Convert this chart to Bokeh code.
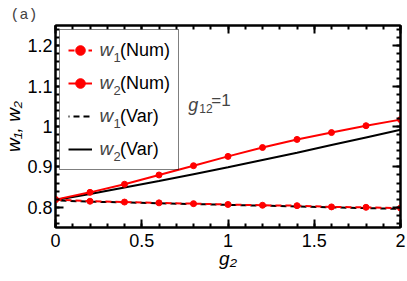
from bokeh.plotting import figure
from bokeh.models import (FixedTicker, LinearAxis, Legend, LegendItem, Label, Range1d,
                          CustomLabelingPolicy, BoxAnnotation)
from bokeh.embed import file_html
from bokeh.resources import INLINE

# ---- data ----
g2 = [0.0, 0.2, 0.4, 0.6, 0.8, 1.0, 1.2, 1.4, 1.6, 1.8, 2.0]
w1_num = [0.819, 0.815, 0.813, 0.811, 0.809, 0.807, 0.805, 0.804, 0.801, 0.800, 0.798]
w2_num = [0.819, 0.837, 0.857, 0.880, 0.903, 0.926, 0.948, 0.968, 0.985, 1.002, 1.017]
w1_var = [0.817, 0.814, 0.812, 0.810, 0.808, 0.806, 0.804, 0.802, 0.800, 0.798, 0.796]
w2_var = [0.818, 0.833, 0.849, 0.865, 0.882, 0.899, 0.917, 0.935, 0.954, 0.973, 0.992]

x_ticks = [0, 0.5, 1, 1.5, 2]
x_tick_labels = ["0", "0.5", "1", "1.5", "2"]
y_ticks = [0.8, 0.9, 1.0, 1.1, 1.2]
y_tick_labels = ["0.8", "0.9", "1", "1.1", "1.2"]
x_minor = [round(0.1 * i, 2) for i in range(21)]
y_minor = [round(0.76 + 0.02 * i, 2) for i in range(25)]

legend_var = ["w", "w", "w", "w"]
legend_sub = ["1", "2", "1", "2"]
legend_kind = ["(Num)", "(Num)", "(Var)", "(Var)"]

FONT = "Liberation Sans"

# ---- layout (pixels) ----
W, H = 407, 281
BL, BR, BT, BB = 53, 7, 25, 54
FRAME_W, FRAME_H = W - BL - BR, H - BT - BB
X0, X1, Y0, Y1 = 0, 2, 0.75, 1.25
SX, SY = (X1 - X0) / FRAME_W, (Y1 - Y0) / FRAME_H   # data units per pixel

p = figure(width=W, height=H, x_range=Range1d(X0, X1), y_range=Range1d(Y0, Y1),
           output_backend="svg", toolbar_location=None,
           min_border_left=BL, min_border_right=BR, min_border_top=BT, min_border_bottom=BB,
           background_fill_color="white", border_fill_color="white")
p.xgrid.visible = False
p.ygrid.visible = False
p.outline_line_color = "black"
p.outline_line_width = 2

p.title.text = "(a)"
p.title.text_font = "Liberation Mono"
p.title.text_font_size = "15px"
p.title.text_font_style = "normal"
p.title.align = "left"
p.title.offset = -45
p.title.standoff = 4

hide_labels = CustomLabelingPolicy(code="for (const i of [...indices]) { indices.unset(i) }\nreturn indices")


def style_axis(ax, ticks, minor, labels, show_labels):
    ax.ticker = FixedTicker(ticks=ticks, minor_ticks=minor)
    ax.axis_line_width = 2
    ax.axis_line_color = "black"
    ax.major_tick_in = 8
    ax.major_tick_out = 0
    ax.minor_tick_in = 4
    ax.minor_tick_out = 0
    ax.major_tick_line_width = 2
    ax.minor_tick_line_width = 2
    ax.major_tick_line_color = "black"
    ax.minor_tick_line_color = "black"
    if show_labels:
        ax.major_label_overrides = {t: l for t, l in zip(ticks, labels)}
        ax.major_label_text_font = FONT
        ax.major_label_text_font_size = "18px"
        ax.major_label_text_color = "black"
    else:
        ax.major_label_text_font_size = "0px"
        ax.major_label_standoff = 0
        ax.major_label_policy = hide_labels


xa = p.xaxis[0]
ya = p.yaxis[0]
style_axis(xa, x_ticks, x_minor, x_tick_labels, True)
style_axis(ya, y_ticks, y_minor, y_tick_labels, True)
xa.major_label_standoff = 6
ya.major_label_standoff = 3
xa.axis_label = "g\u2082"
ya.axis_label = "w\u2081, w\u2082"
for ax in (xa, ya):
    ax.axis_label_text_font = FONT
    ax.axis_label_text_font_size = "19px"
    ax.axis_label_text_font_style = "italic"
    ax.axis_label_text_color = "black"
xa.axis_label_standoff = -2
ya.axis_label_standoff = 0

top = LinearAxis()
style_axis(top, x_ticks, x_minor, x_tick_labels, False)
p.add_layout(top, "above")
right = LinearAxis()
style_axis(right, y_ticks, y_minor, y_tick_labels, False)
p.add_layout(right, "right")

# ---- series ----
r_w1v = p.line(g2, w1_var, line_color="black", line_width=2, line_dash="6 4", line_dash_offset=5)
r_w2v = p.line(g2, w2_var, line_color="black", line_width=2)
r_w1n = p.line(g2, w1_num, line_color="red", line_width=2, line_dash="6 4")
r_w1n_d = p.scatter(g2, w1_num, size=6, color="red")
r_w2n = p.line(g2, w2_num, line_color="red", line_width=2)
r_w2n_d = p.scatter(g2, w2_num, size=6, color="red")

# ---- legend ----
LEG_MARGIN, LEG_PAD, LEG_ROW, LEG_SPACING = 4, 8, 24, 9
LEG_GLYPH_W, LEG_STANDOFF, LEG_LABEL_W = 24, 28, 50
LEG_W = 2 * LEG_PAD + LEG_GLYPH_W + LEG_STANDOFF + LEG_LABEL_W
LEG_H = 2 * LEG_PAD + 4 * LEG_ROW + 3 * LEG_SPACING

# white backing for the legend (hides the inward ticks behind it)
p.add_layout(BoxAnnotation(left=X0 + LEG_MARGIN * SX, right=X0 + (LEG_MARGIN + LEG_W) * SX,
                           top=Y1 - LEG_MARGIN * SY, bottom=Y1 - (LEG_MARGIN + LEG_H) * SY,
                           fill_color="white", fill_alpha=1, line_color=None,
                           level="annotation"))

# italic w + subscript digit in front of each legend label
for i in range(4):
    dy = -(LEG_MARGIN + LEG_PAD + LEG_ROW / 2 + i * (LEG_ROW + LEG_SPACING))
    p.add_layout(Label(x=X0, y=Y1, x_offset=44, y_offset=dy, text=legend_var[i],
                       text_font=FONT, text_font_size="19px", text_font_style="italic",
                       text_baseline="middle", text_align="left"))
    p.add_layout(Label(x=X0, y=Y1, x_offset=58, y_offset=dy - 8, text=legend_sub[i],
                       text_font=FONT, text_font_size="13px",
                       text_baseline="middle", text_align="left"))

legend = Legend(items=[
    LegendItem(label=legend_kind[0], renderers=[r_w1n, r_w1n_d]),
    LegendItem(label=legend_kind[1], renderers=[r_w2n, r_w2n_d]),
    LegendItem(label=legend_kind[2], renderers=[r_w1v]),
    LegendItem(label=legend_kind[3], renderers=[r_w2v]),
], location="top_left", margin=LEG_MARGIN, padding=LEG_PAD, spacing=LEG_SPACING,
    glyph_width=LEG_GLYPH_W, glyph_height=LEG_ROW, label_height=LEG_ROW,
    label_width=LEG_LABEL_W, label_standoff=LEG_STANDOFF, label_text_font=FONT,
    label_text_font_size="18px", label_text_color="black",
    border_line_color="black", border_line_width=1, background_fill_alpha=0)
p.add_layout(legend)

# ---- annotation g12=1 ----
ann_x, ann_y = 0.77, 1.052
p.add_layout(Label(x=ann_x, y=ann_y, text="g", text_font=FONT, text_font_size="18px",
                   text_font_style="italic", text_baseline="alphabetic"))
p.add_layout(Label(x=ann_x, y=ann_y, x_offset=11, y_offset=-3, text="12", text_font=FONT,
                   text_font_size="12px", text_baseline="alphabetic"))
p.add_layout(Label(x=ann_x, y=ann_y, x_offset=23, y_offset=5, text="=1", text_font=FONT,
                   text_font_size="17px", text_baseline="alphabetic"))

open("out.html", "w").write(file_html(p, INLINE))
